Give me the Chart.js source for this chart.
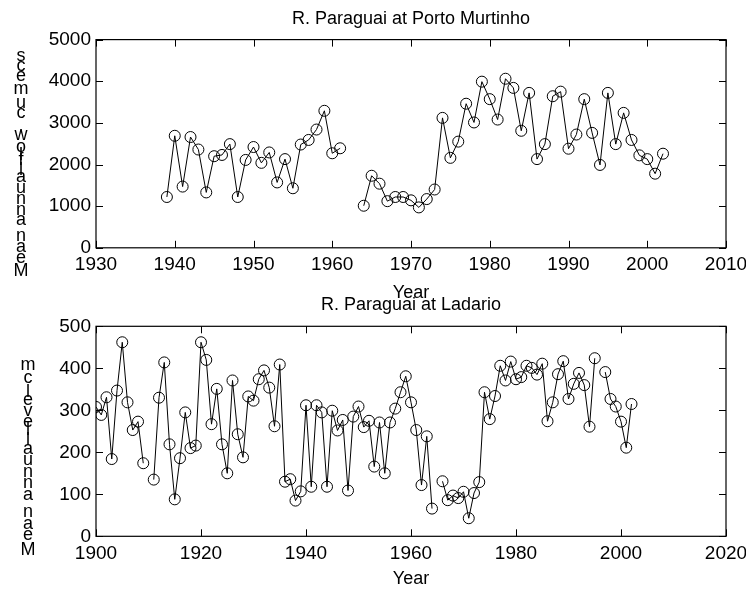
<!DOCTYPE html>
<html>
<head>
<meta charset="utf-8">
<script src="https://cdn.jsdelivr.net/npm/chart.js@4.4.1/dist/chart.umd.min.js"></script>
<style>
    html, body { margin: 0; padding: 0; background: #fff; }
    #wrap { position: relative; width: 746px; height: 590px; }
    #wrap canvas { position: absolute; left: 0; top: 0; }
</style>
</head>
<body>
<div id="wrap">
    <canvas id="chartPorto" width="746" height="590"></canvas>
    <canvas id="chartLadario" width="746" height="590"></canvas>
</div>
<script>
// R. Paraguai at Porto Murtinho - mean annual flow (cumecs)
const portoYears = [
    1939, 1940, 1941, 1942, 1943, 1944, 1945, 1946, 1947, 1948,
    1949, 1950, 1951, 1952, 1953, 1954, 1955, 1956, 1957, 1958,
    1959, 1960, 1961, 1962, 1963, 1964, 1965, 1966, 1967, 1968,
    1969, 1970, 1971, 1972, 1973, 1974, 1975, 1976, 1977, 1978,
    1979, 1980, 1981, 1982, 1983, 1984, 1985, 1986, 1987, 1988,
    1989, 1990, 1991, 1992, 1993, 1994, 1995, 1996, 1997, 1998,
    1999, 2000, 2001, 2002
];
const portoFlow = [
    1220, 2690, 1470, 2660, 2360, 1330, 2200, 2230, 2490, 1220,
    2110, 2420, 2040, 2290, 1570, 2130, 1430, 2480, 2590, 2840,
    3290, 2270, 2390, null, null, 1010, 1730, 1540, 1120, 1220,
    1220, 1140, 970, 1170, 1400, 3120, 2160, 2550, 3460, 3010,
    3990, 3570, 3080, 4060, 3840, 2810, 3720, 2130, 2490, 3640,
    3750, 2380, 2720, 3570, 2760, 1990, 3720, 2490, 3240, 2590,
    2220, 2130, 1780, 2260
];

// R. Paraguai at Ladario - mean annual level (cm)
const ladarioYears = [
    1900, 1901, 1902, 1903, 1904, 1905, 1906, 1907, 1908, 1909,
    1910, 1911, 1912, 1913, 1914, 1915, 1916, 1917, 1918, 1919,
    1920, 1921, 1922, 1923, 1924, 1925, 1926, 1927, 1928, 1929,
    1930, 1931, 1932, 1933, 1934, 1935, 1936, 1937, 1938, 1939,
    1940, 1941, 1942, 1943, 1944, 1945, 1946, 1947, 1948, 1949,
    1950, 1951, 1952, 1953, 1954, 1955, 1956, 1957, 1958, 1959,
    1960, 1961, 1962, 1963, 1964, 1965, 1966, 1967, 1968, 1969,
    1970, 1971, 1972, 1973, 1974, 1975, 1976, 1977, 1978, 1979,
    1980, 1981, 1982, 1983, 1984, 1985, 1986, 1987, 1988, 1989,
    1990, 1991, 1992, 1993, 1994, 1995, 1996, 1997, 1998, 1999,
    2000, 2001, 2002
];
const ladarioLevel = [
    308, 289, 331, 184, 347, 462, 319, 253, 273, 174,
    null, 135, 330, 414, 219, 88, 186, 295, 210, 216,
    462, 420, 267, 351, 219, 150, 371, 243, 188, 333,
    323, 374, 395, 354, 262, 409, 130, 136, 85, 107,
    312, 118, 312, 295, 118, 299, 252, 277, 109, 285,
    309, 260, 275, 166, 271, 150, 271, 304, 343, 381,
    319, 253, 122, 238, 66, null, 131, 86, 97, 91,
    106, 43, 103, 129, 343, 279, 334, 406, 371, 416,
    374, 379, 406, 401, 385, 411, 274, 319, 386, 417,
    327, 363, 389, 360, 261, 424, null, 391, 327, 309,
    273, 211, 315
];

const FONT = '"Liberation Sans", Arial, Helvetica, sans-serif';
Chart.defaults.font.family = FONT;
Chart.defaults.color = '#000';

// box round the plot, inward ticks on all four sides, stacked y label
const matlabAxes = {
    id: 'matlabAxes',
    afterDraw(chart, args, opts) {
        const ctx = chart.ctx;
        const area = chart.chartArea;
        const xs = chart.scales.x;
        const ys = chart.scales.y;
        const len = 7;
        ctx.save();
        ctx.strokeStyle = '#000';
        ctx.lineWidth = 1.2;
        ctx.strokeRect(area.left, area.top, area.right - area.left, area.bottom - area.top);
        ctx.lineWidth = 1;
        ctx.beginPath();
        xs.ticks.forEach(t => {
            const px = Math.round(xs.getPixelForValue(t.value)) + 0.5;
            ctx.moveTo(px, area.bottom);
            ctx.lineTo(px, area.bottom - len);
            ctx.moveTo(px, area.top);
            ctx.lineTo(px, area.top + len);
        });
        ys.ticks.forEach(t => {
            const py = Math.round(ys.getPixelForValue(t.value)) + 0.5;
            ctx.moveTo(area.left, py);
            ctx.lineTo(area.left + len, py);
            ctx.moveTo(area.right, py);
            ctx.lineTo(area.right - len, py);
        });
        ctx.stroke();

        // y label: letters upright, stacked bottom to top
        const text = opts.label;
        ctx.font = '18px ' + FONT;
        ctx.fillStyle = '#000';
        ctx.textAlign = 'center';
        ctx.textBaseline = 'middle';
        const widths = [...text].map(ch => ctx.measureText(ch).width);
        const centers = [];
        let acc = 0;
        widths.forEach(w => {
            centers.push(acc + w / 2);
            acc += w;
        });
        const yFirst = area.bottom + opts.firstOffset;
        const yLast = area.top + opts.lastOffset;
        const span = centers[centers.length - 1] - centers[0];
        [...text].forEach((ch, i) => {
            const y = yFirst - (centers[i] - centers[0]) / span * (yFirst - yLast);
            ctx.fillText(ch, opts.x, y);
        });
        ctx.restore();
    }
};

function makeChart(canvasId, years, values, cfg) {
    const points = years.map((yr, i) => ({x: yr, y: values[i]}));
    return new Chart(document.getElementById(canvasId), {
        type: 'line',
        data: {
            datasets: [{
                data: points,
                borderColor: '#000',
                borderWidth: 1,
                backgroundColor: 'rgba(0,0,0,0)',
                pointStyle: 'circle',
                pointRadius: 5.5,
                pointBorderWidth: 1,
                pointBorderColor: '#000',
                pointBackgroundColor: 'rgba(0,0,0,0)',
                tension: 0,
                spanGaps: false
            }]
        },
        options: {
            responsive: false,
            animation: false,
            layout: {
                padding: cfg.padding
            },
            plugins: {
                legend: {display: false},
                tooltip: {enabled: false},
                title: {
                    display: true,
                    text: cfg.title,
                    fullSize: false,
                    color: '#000',
                    font: {size: 18, weight: 'normal'},
                    padding: cfg.titlePadding
                },
                matlabAxes: cfg.yLabel
            },
            scales: {
                x: {
                    type: 'linear',
                    min: cfg.xMin,
                    max: cfg.xMax,
                    grid: {display: false, drawTicks: false},
                    border: {display: false},
                    ticks: {
                        stepSize: cfg.xStep,
                        font: {size: 19},
                        padding: 6,
                        maxRotation: 0,
                        autoSkip: false,
                        callback: v => String(v)
                    },
                    title: {
                        display: true,
                        text: 'Year',
                        font: {size: 18},
                        padding: {top: 0, bottom: 0}
                    },
                    afterFit(scale) {
                        scale.height = cfg.xHeight;
                        scale.paddingLeft = 0;
                        scale.paddingRight = 0;
                    }
                },
                y: {
                    min: cfg.yMin,
                    max: cfg.yMax,
                    grid: {display: false, drawTicks: false},
                    border: {display: false},
                    ticks: {
                        stepSize: cfg.yStep,
                        font: {size: 19},
                        padding: 5,
                        callback: v => String(v)
                    },
                    afterFit(scale) {
                        scale.width = 96;
                        scale.paddingTop = 0;
                        scale.paddingBottom = 0;
                    }
                }
            }
        },
        plugins: [matlabAxes]
    });
}

makeChart('chartPorto', portoYears, portoFlow, {
    title: 'R. Paraguai at Porto Murtinho',
    titlePadding: {top: 8, bottom: 10},
    padding: {left: 0, right: 20, top: 0, bottom: 286.2},
    xHeight: 56,
    xMin: 1930, xMax: 2010, xStep: 10,
    yMin: 0, yMax: 5000, yStep: 1000,
    yLabel: {label: 'Mean annual flow, cumecs', x: 21, firstOffset: 23.3, lastOffset: 16.5}
});

makeChart('chartLadario', ladarioYears, ladarioLevel, {
    title: 'R. Paraguai at Ladario',
    titlePadding: {top: 2, bottom: 10},
    padding: {left: 0, right: 20, top: 292.7, bottom: 0},
    xHeight: 53.7,
    xMin: 1900, xMax: 2020, xStep: 20,
    yMin: 0, yMax: 500, yStep: 100,
    yLabel: {label: 'Mean annual level cm', x: 28, firstOffset: 13.7, lastOffset: 38.3}
});
</script>
</body>
</html>
